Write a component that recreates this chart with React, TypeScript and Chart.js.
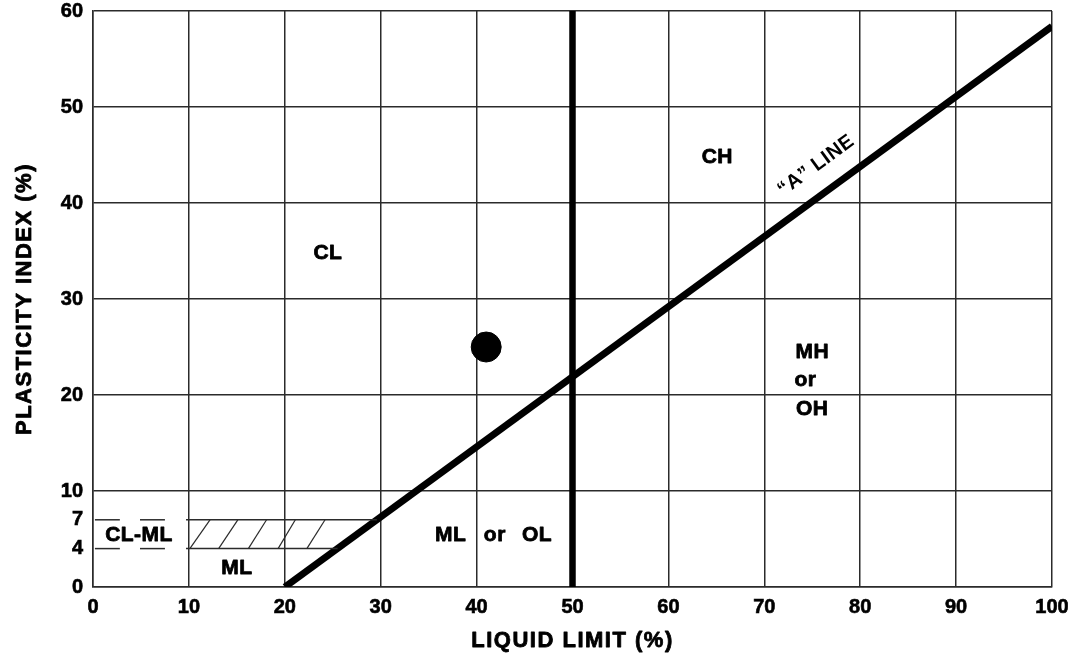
import React, { useEffect, useRef } from "react";
import { Chart, registerables } from "chart.js";

Chart.register(...registerables);

// ---- data ----
const xTickValues = [0, 10, 20, 30, 40, 50, 60, 70, 80, 90, 100];
const yTickValues = [0, 4, 7, 10, 20, 30, 40, 50, 60];

const aLineLL = [20, 100];
const aLinePI = [0, 58.4];

const boundaryLL = [50, 50];
const boundaryPI = [0, 60];

const sampleLL = [41];
const samplePI = [25];

const clmlUpperPI = 7;
const clmlLowerPI = 4;
const clmlDashStart = [0.2, 4.9];
const clmlDashEnd = [2.8, 7.5];
const clmlBandStart = 9.7;
const clmlUpperEnd = 29.6;
const clmlLowerEnd = 25.5;
const hatchBottomLL = [10.1, 13.1, 16.2, 19.3, 22.3];
const hatchTopLL = [12.2, 15.1, 18.1, 21.1, 24.2];

const zoneLabels = ["CL", "CH", "MH", "or", "OH", "ML", "or", "OL", "ML", "CL-ML"];
const zoneLabelLL = [24.5, 65.1, 75.0, 74.3, 75.0, 37.3, 41.9, 46.3, 15.0, 4.8];
const zoneLabelPI = [34.8, 44.8, 24.5, 21.5, 18.5, 5.4, 5.4, 5.4, 2.0, 5.4];

const aLineLabel = "\u201CA\u201D LINE";
const aLineLabelLL = 75.4;
const aLineLabelPI = 43.9;

const xTitle = "LIQUID LIMIT (%)";
const yTitle = "PLASTICITY INDEX (%)";

const FONT = "'Liberation Sans', Arial, sans-serif";
const GRID = "#2b2b2b";
const SHIFT = 5;

function seg(x1: number, y1: number, x2: number, y2: number) {
  return [
    { x: x1, y: y1 },
    { x: x2, y: y2 },
  ];
}

function heavyText(ctx: CanvasRenderingContext2D, t: string, x: number, y: number) {
  ctx.lineWidth = 0.8;
  ctx.strokeStyle = "#000";
  ctx.lineJoin = "round";
  ctx.strokeText(t, x, y);
  ctx.fillText(t, x, y);
}

const labelPlugin = {
  id: "labels",
  afterDatasetsDraw(chart: any) {
    const { ctx, scales, chartArea } = chart;
    const xs = scales.x;
    const ys = scales.y;
    ctx.save();
    ctx.fillStyle = "#000";
    ctx.textAlign = "center";
    ctx.textBaseline = "middle";
    ctx.font = `bold 21px ${FONT}`;
    (ctx as any).letterSpacing = "0.5px";
    zoneLabels.forEach((t, i) => {
      heavyText(ctx, t, xs.getPixelForValue(zoneLabelLL[i]), ys.getPixelForValue(zoneLabelPI[i]));
    });
    // A line label
    const x1 = xs.getPixelForValue(aLineLL[0]);
    const y1 = ys.getPixelForValue(aLinePI[0]);
    const x2 = xs.getPixelForValue(aLineLL[1]);
    const y2 = ys.getPixelForValue(aLinePI[1]);
    const ang = Math.atan2(y2 - y1, x2 - x1);
    ctx.translate(xs.getPixelForValue(aLineLabelLL), ys.getPixelForValue(aLineLabelPI));
    ctx.rotate(ang);
    ctx.font = `bold 20px ${FONT}`;
    ctx.fillText(aLineLabel, 0, 0);
    ctx.restore();

    // axis titles
    ctx.save();
    ctx.fillStyle = "#000";
    ctx.font = `bold 22px ${FONT}`;
    ctx.textAlign = "center";
    ctx.textBaseline = "middle";
    (ctx as any).letterSpacing = "1.5px";
    heavyText(ctx, xTitle, (chartArea.left + chartArea.right) / 2, chartArea.bottom + 54);
    ctx.translate(25, (chartArea.top + chartArea.bottom) / 2);
    ctx.rotate(-Math.PI / 2);
    heavyText(ctx, yTitle, 0, 0);
    ctx.restore();
  },
};

export default function App() {
  const ref = useRef<HTMLCanvasElement>(null);
  useEffect(() => {
    const thin = { borderColor: GRID, borderWidth: 1.5, pointRadius: 0, showLine: true, fill: false };
    const datasets: any[] = [];
    clmlDashStart.forEach((s, i) => {
      datasets.push({ ...thin, data: seg(s, clmlUpperPI, clmlDashEnd[i], clmlUpperPI) });
      datasets.push({ ...thin, data: seg(s, clmlLowerPI, clmlDashEnd[i], clmlLowerPI) });
    });
    datasets.push({ ...thin, data: seg(clmlBandStart, clmlUpperPI, clmlUpperEnd, clmlUpperPI) });
    datasets.push({ ...thin, data: seg(clmlBandStart, clmlLowerPI, clmlLowerEnd, clmlLowerPI) });
    hatchBottomLL.forEach((b, i) => {
      datasets.push({ ...thin, borderWidth: 1.2, data: seg(b, clmlLowerPI, hatchTopLL[i], clmlUpperPI) });
    });
    datasets.push({
      borderColor: "#000",
      borderWidth: 7,
      pointRadius: 0,
      showLine: true,
      data: aLineLL.map((x, i) => ({ x, y: aLinePI[i] })),
    });
    datasets.push({
      borderColor: "#000",
      borderWidth: 6.5,
      pointRadius: 0,
      showLine: true,
      data: boundaryLL.map((x, i) => ({ x, y: boundaryPI[i] })),
    });
    datasets.push({
      backgroundColor: "#000",
      borderColor: "#000",
      pointRadius: 15,
      showLine: false,
      data: sampleLL.map((x, i) => ({ x, y: samplePI[i] })),
    });

    const tickFont = { family: FONT, size: 20, weight: "bold" };

    const chart = new Chart(ref.current as HTMLCanvasElement, {
      type: "scatter",
      data: { datasets },
      plugins: [labelPlugin],
      options: {
        animation: false,
        responsive: false,
        maintainAspectRatio: false,
        layout: { padding: { top: 11, right: 16, left: 0, bottom: 0 } },
        plugins: { legend: { display: false }, tooltip: { enabled: false } },
        scales: {
          x: {
            type: "linear",
            min: 0,
            max: 100,
            afterBuildTicks: (s: any) => {
              s.ticks = xTickValues.map((v) => ({ value: v }));
            },
            afterFit: (s: any) => {
              s.height = 68;
              s.paddingLeft = 0;
              s.paddingRight = 0;
              s.paddingTop = 0;
              s.paddingBottom = 0;
            },
            grid: { color: GRID, lineWidth: 1.5, drawTicks: false },
            border: { color: GRID, width: 1.5 },
            ticks: {
              padding: 8,
              color: "#000",
              textStrokeColor: "#000",
              textStrokeWidth: 0.6,
              font: tickFont,
              maxRotation: 0,
            },
          },
          y: {
            type: "linear",
            min: 0,
            max: 60,
            afterBuildTicks: (s: any) => {
              s.ticks = yTickValues.map((v) => ({ value: v }));
            },
            afterFit: (s: any) => {
              s.width = 93;
              s.paddingLeft = 0;
              s.paddingRight = 0;
              s.paddingTop = 0;
              s.paddingBottom = 0;
            },
            grid: {
              color: (c: any) => (c.tick && (c.tick.value === 4 || c.tick.value === 7) ? "rgba(0,0,0,0)" : GRID),
              lineWidth: 1.5,
              drawTicks: false,
            },
            border: { color: GRID, width: 1.5 },
            ticks: {
              padding: 10,
              color: "#000",
              textStrokeColor: "#000",
              textStrokeWidth: 0.6,
              font: tickFont,
            },
          },
        },
      },
    } as any);
    return () => chart.destroy();
  }, []);

  return (
    <div style={{ position: "absolute", left: 0, top: 0, width: 1068, height: 655, overflow: "hidden", background: "#fff" }}>
      <canvas
        ref={ref}
        width={1068}
        height={655 + SHIFT}
        style={{ display: "block", position: "absolute", left: 0, top: -SHIFT }}
      />
    </div>
  );
}
